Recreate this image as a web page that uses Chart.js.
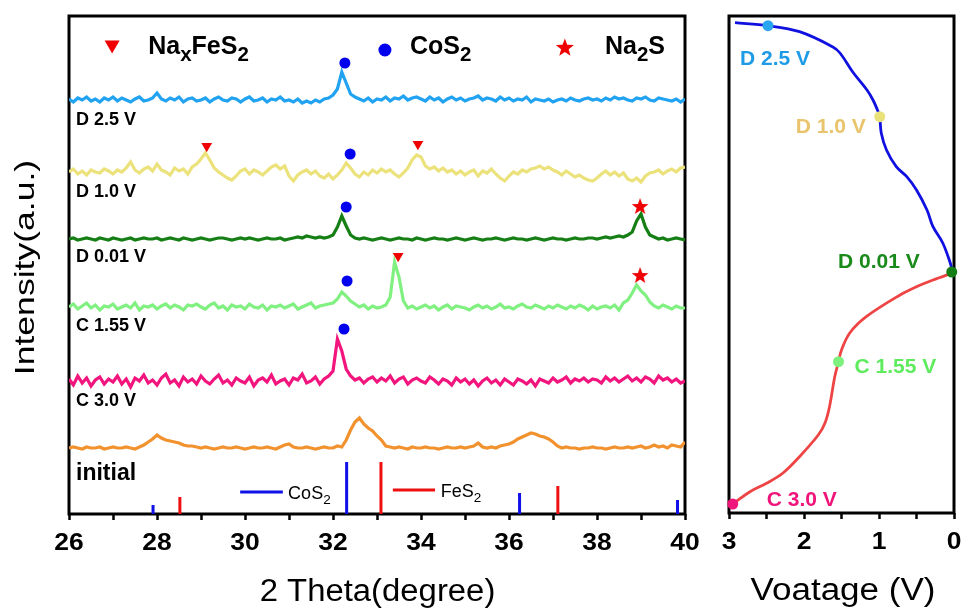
<!DOCTYPE html>
<html><head><meta charset="utf-8">
<script src="https://cdn.jsdelivr.net/npm/chart.js@4"></script>
<style>
html,body{margin:0;padding:0;background:#fff;}
#wrap{position:relative;width:964px;height:611px;overflow:hidden;}
#c1{position:absolute;left:0;top:0;}
#c2{position:absolute;left:700px;top:0;}
</style></head><body>
<div id="wrap"><canvas id="c1" width="700" height="611"></canvas><canvas id="c2" width="264" height="611"></canvas></div>
<script>
// ---------- XRD panel data ----------
const twoTheta = [26.0,26.1,26.2,26.3,26.4,26.5,26.6,26.7,26.8,26.9,
27.0,27.1,27.2,27.3,27.4,27.5,27.6,27.7,27.8,27.9,
28.0,28.1,28.2,28.3,28.4,28.5,28.6,28.7,28.8,28.9,
29.0,29.1,29.2,29.3,29.4,29.5,29.6,29.7,29.8,29.9,
30.0,30.1,30.2,30.3,30.4,30.5,30.6,30.7,30.8,30.9,
31.0,31.1,31.2,31.3,31.4,31.5,31.6,31.7,31.8,31.9,
32.0,32.1,32.2,32.3,32.4,32.5,32.6,32.7,32.8,32.9,
33.0,33.1,33.2,33.3,33.4,33.5,33.6,33.7,33.8,33.9,
34.0,34.1,34.2,34.3,34.4,34.5,34.6,34.7,34.8,34.9,
35.0,35.1,35.2,35.3,35.4,35.5,35.6,35.7,35.8,35.9,
36.0,36.1,36.2,36.3,36.4,36.5,36.6,36.7,36.8,36.9,
37.0,37.1,37.2,37.3,37.4,37.5,37.6,37.7,37.8,37.9,
38.0,38.1,38.2,38.3,38.4,38.5,38.6,38.7,38.8,38.9,
39.0,39.1,39.2,39.3,39.4,39.5,39.6,39.7,39.8,39.9,
40.0];

const intD25 = [1,-2,2,0,3,-1,1,-2,2,0,
3,-1,2,0,-2,1,3,-1,0,2,
7,1,-1,2,0,3,-2,1,2,-1,
0,2,-2,1,3,0,-1,2,1,-2,
1,3,-1,0,2,-2,1,0,3,-1,
0,-2,1,-3,-1,-3,0,-2,1,2,
5,11,28,17,6,3,1,-1,2,-2,
1,0,3,-1,2,1,4,0,2,3,
1,-1,3,0,2,-2,1,3,0,2,
-1,1,2,4,0,2,1,-1,3,0,
2,-1,1,0,3,-2,1,0,-1,1,
-2,0,1,-1,2,0,-1,1,2,0,
1,-1,2,0,3,1,2,0,-1,2,
1,3,0,-1,2,1,0,-1,1,-2,
1];

const intD10 = [0,3,-2,1,-3,2,0,-1,3,1,
-2,2,0,4,10,2,-1,3,5,1,
8,2,0,-3,4,1,3,-2,5,8,
13,19,12,4,0,-3,-6,-8,-4,1,
3,-2,2,0,-3,1,5,7,3,6,
-4,-9,-3,0,2,-2,1,-4,-6,-2,
-7,-3,2,9,4,-2,-5,0,-3,2,
-1,3,0,2,-2,-5,-1,4,12,17,
15,6,3,5,1,4,0,2,-2,1,
-3,0,2,-4,1,-1,3,-2,-6,-9,
-4,0,-2,2,0,3,4,6,3,5,
2,0,-3,1,-2,-5,-3,-6,-8,-9,
-6,-2,1,-3,0,-4,-1,-7,-9,-6,
-10,-4,-1,0,2,-2,1,3,0,4,
5];

const intD001 = [0,1,-1,0,1,0,-1,1,0,-1,
1,0,-1,0,1,-1,0,1,0,0,
1,-1,0,1,0,-1,1,0,-1,0,
1,0,-1,0,1,1,0,-1,0,1,
0,1,0,-1,0,1,0,0,1,-1,
0,1,2,1,3,2,1,2,1,2,
4,12,23,13,4,1,0,1,0,-1,
0,1,0,-1,0,1,0,0,-1,1,
0,-1,0,1,0,0,-1,0,1,0,
-1,0,1,0,-1,0,0,1,0,-1,
0,1,0,0,-1,0,1,0,-1,0,
1,0,0,-1,0,1,0,0,1,1,
0,1,2,1,2,3,2,4,7,18,
25,12,4,2,0,1,-1,0,1,0,
-1];

const intC155 = [0,3,-2,1,4,-1,2,-3,1,0,
3,-2,0,2,-1,4,-3,1,0,2,
-2,1,3,-1,2,0,-3,2,1,3,
0,-2,2,4,-1,1,-3,2,0,1,
-2,3,0,-1,2,-3,1,0,2,-1,
1,3,-2,0,2,4,-1,1,2,3,
4,8,15,11,6,3,0,2,-2,1,
-1,0,2,10,45,30,6,-1,1,-2,
0,2,-1,1,-3,0,2,-2,1,0,
-1,-3,0,2,-1,1,-2,0,3,-1,
0,-2,1,3,0,-1,2,0,-2,1,
-1,2,0,-2,1,-1,2,0,-3,1,
-2,0,1,-1,2,-3,4,7,14,22,
16,12,5,1,-1,2,0,-2,1,-1,
-1];

const intC30 = [2,-4,5,-2,3,-5,1,4,-3,2,
-1,5,-3,2,-6,3,0,6,-2,1,
-4,3,7,-2,1,-5,4,-1,2,-3,
5,0,-3,2,6,-2,1,-4,3,0,
-2,4,-5,1,3,-1,6,-3,0,2,
-4,3,1,7,-2,0,4,-3,2,5,
10,42,30,12,5,1,3,-2,2,4,
-1,3,0,5,-2,2,4,-3,1,3,
0,-2,4,1,-3,2,0,-4,3,-1,
2,-3,1,-5,0,3,-2,1,-4,2,
-1,-4,2,0,-3,1,-5,2,0,-2,
3,-1,1,4,-2,2,0,3,-1,2,
1,-2,4,0,3,-1,2,5,0,3,
-1,4,2,-2,5,1,3,-1,2,-2,
0];

const intInitial = [0,1,0,-1,1,0,0,1,-1,0,
1,0,0,1,0,-1,1,3,6,9,
13,10,8,7,6,5,3,2,2,1,
0,1,0,-1,0,1,0,0,1,0,
-1,0,1,0,0,1,0,-1,1,3,
4,1,0,0,1,0,-1,0,1,0,
0,2,1,8,18,26,30,24,20,17,
12,8,2,1,0,1,0,-1,1,0,
0,1,0,0,-1,0,1,0,0,1,
0,1,2,5,1,0,1,0,2,3,
4,6,9,11,13,15,14,12,11,9,
6,2,0,1,0,0,-1,0,0,1,
0,0,-1,0,1,0,0,1,0,1,
2,0,1,3,1,2,0,3,2,1,
6];

const traceNames = ['D 2.5 V','D 1.0 V','D 0.01 V','C 1.55 V','C 3.0 V','initial'];
const traceOffsets = [414,342,275,207,133,66];

// reference stick patterns
const cos2Ref2T = [27.91,32.31,36.24,39.83];
const cos2RefInt = [9,52,21,14];
const fes2Ref2T = [28.52,33.09,37.11];
const fes2RefInt = [17,52,28];

// phase markers above peaks
const cos2Mark2T = [32.27,32.39,32.30,32.32,32.25];
const cos2MarkY  = [451,360,307,233,185];
const naxMark2T  = [29.13,33.93,33.48];
const naxMarkY   = [368,370,258];
const na2sMark2T = [38.98,38.98];
const na2sMarkY  = [308,239];

const xTicksLeft = [26,28,30,32,34,36,38,40];

// ---------- voltage panel data ----------
const vDischarge   = [2.92,2.48,2.06,1.62,1.52,1.35,1.16,1.08,1.01,0.99,0.97,0.90,0.77,0.63,0.50,0.36,0.28,0.15,0.05,0.02];
const capDischarge = [6.7,9.7,15.7,30.7,37,56,74,84,96,100.7,117,134,150.7,160.7,174,194,210.7,227,247,256];
const vCharge      = [0.02,0.28,0.50,0.72,1.17,1.39,1.50,1.54,1.59,1.66,1.72,1.81,2.06,2.28,2.50,2.72,2.95];
const capCharge    = [257,264,270.7,279,300.7,317,334,345.7,360.7,390.7,407,419,440.7,457,467.3,475.7,488];
const stopLabels = ['D 2.5 V','D 1.0 V','D 0.01 V','C 1.55 V','C 3.0 V'];
const stopV      = [2.48,0.99,0.03,1.54,2.95];
const stopCap    = [9.7,100.7,256,345.7,488];
const xTicksRight = [3,2,1,0];

// ---------- styles ----------
const FONT = '"Liberation Sans", Arial, Helvetica, sans-serif';
const traceColors = ['#22A3F2','#ECE27C','#157F15','#80F080','#F2157D','#F2922E'];
const stopDotColors = ['#2AA5F0','#E9E27A','#157F15','#7EF07E','#F0157A'];
const stopTextColors = ['#1E9BE6','#E9C46C','#1A8A1A','#5EEB5E','#F0157A'];
const stopTextOffsets = [{dx:-28,dy:39,align:'left'},{dx:-14,dy:16,align:'right'},{dx:-32,dy:-4,align:'right'},{dx:16,dy:11,align:'left'},{dx:34,dy:2,align:'left'}];

function starPath(ctx,cx,cy,R){
  const r=R*0.42; ctx.beginPath();
  for(let k=0;k<10;k++){const a=-Math.PI/2+k*Math.PI/5;const rr=k%2?r:R;ctx.lineTo(cx+rr*Math.cos(a),cy+rr*Math.sin(a));}
  ctx.closePath();
}
function makeStar(R,color){
  const c=document.createElement('canvas'); const s=Math.ceil(2*R+2); c.width=s; c.height=s;
  const g=c.getContext('2d'); g.fillStyle=color; starPath(g,s/2,s/2+R*0.1,R); g.fill(); return c;
}
function drawText(ctx,text,x,y,o){
  ctx.save(); ctx.font=o.font; ctx.fillStyle=o.color||'#000';
  ctx.textAlign=o.align||'left'; ctx.textBaseline=o.baseline||'alphabetic';
  ctx.translate(x,y); if(o.rot) ctx.rotate(o.rot); ctx.scale(o.sx||1,1);
  ctx.fillText(text,0,0); ctx.restore();
}
function drawRich(ctx,parts,x,y,size,weight,color,subScale){
  const ss = subScale||0.75;
  ctx.save(); ctx.fillStyle=color||'#000'; ctx.textBaseline='alphabetic'; ctx.textAlign='left';
  let cx=x;
  for(const [t,sub] of parts){
    const fs = sub? size*ss : size;
    ctx.font = weight+' '+fs+'px '+FONT;
    ctx.fillText(t,cx,y+(sub?size*0.28:0));
    cx += ctx.measureText(t).width;
  }
  ctx.restore();
}

// ---------- left chart ----------
const intensities=[intD25,intD10,intD001,intC155,intC30,intInitial];
const traceDatasets = intensities.map((arr,i)=>({
  label:traceNames[i], data: twoTheta.map((t,k)=>({x:t,y:arr[k]+traceOffsets[i]})),
  borderColor:traceColors[i], borderWidth:3.2, pointRadius:0, tension:0, order:2
}));
function sticks(pos,ints){const d=[];pos.forEach((p,i)=>{d.push({x:p,y:0},{x:p,y:ints[i]},{x:p,y:null});});return d;}

const starImg = makeStar(8.8,'#F00000');
const leftDatasets = [
  {label:'CoS2 mark', data:cos2Mark2T.map((t,i)=>({x:t,y:cos2MarkY[i]})), showLine:false, pointRadius:5.5, pointStyle:'circle', pointBackgroundColor:'#0000EE', pointBorderWidth:0, order:0},
  {label:'NaxFeS2 mark', data:naxMark2T.map((t,i)=>({x:t,y:naxMarkY[i]})), showLine:false, pointRadius:6.2, pointStyle:'triangle', rotation:180, pointBackgroundColor:'#F00000', pointBorderWidth:0, order:0},
  {label:'Na2S mark', data:na2sMark2T.map((t,i)=>({x:t,y:na2sMarkY[i]})), showLine:false, pointStyle:starImg, pointRadius:9, order:0},
  {label:'CoS2 ref', data:sticks(cos2Ref2T,cos2RefInt), borderColor:'#1010E8', borderWidth:3, pointRadius:0, spanGaps:false, borderCapStyle:'butt', order:1},
  {label:'FeS2 ref', data:sticks(fes2Ref2T,fes2RefInt), borderColor:'#EE1010', borderWidth:3, pointRadius:0, spanGaps:false, borderCapStyle:'butt', order:1},
  ...traceDatasets
];

const leftDeco = {
  id:'leftDeco',
  beforeDatasetsDraw(chart){
    const {ctx,chartArea:a}=chart; ctx.save(); ctx.lineWidth=3; ctx.strokeStyle='#000';
    ctx.strokeRect(a.left,a.top,a.right-a.left,a.bottom-a.top); ctx.restore();
  },
  afterDraw(chart){
    const ctx=chart.ctx, xs=chart.scales.x, ys=chart.scales.y;
    xTicksLeft.forEach(v=>drawText(ctx,String(v),xs.getPixelForValue(v),543.5,{font:'bold 23px '+FONT,align:'center',baseline:'middle',sx:1.15}));
    drawText(ctx,'2 Theta(degree)',377.5,601,{font:'31px '+FONT,align:'center',sx:1.06});
    drawText(ctx,'Intensity(a.u.)',34,267.5,{font:'28px '+FONT,align:'center',rot:-Math.PI/2,sx:1.27});
    traceNames.forEach((n,i)=>{
      const big = n==='initial';
      const ly = [394,322,257,188,112.5,40][i];
      drawText(ctx,n,xs.getPixelForValue(26.16),ys.getPixelForValue(ly),{font:'bold '+(big?23:18)+'px '+FONT,baseline:'middle'});
    });
    const base = ys.getPixelForValue(460);
    let tx=xs.getPixelForValue(26.98), ty=ys.getPixelForValue(467.5);
    ctx.save(); ctx.fillStyle='#F00000'; ctx.beginPath(); ctx.moveTo(tx-7.5,ty-6); ctx.lineTo(tx+7.5,ty-6); ctx.lineTo(tx,ty+7); ctx.closePath(); ctx.fill(); ctx.restore();
    drawRich(ctx,[['Na',0],['x',1],['FeS',0],['2',1]],xs.getPixelForValue(27.8),base,25,'bold','#000',0.82);
    ctx.save(); ctx.fillStyle='#0000EE'; ctx.beginPath(); ctx.arc(xs.getPixelForValue(33.18),ys.getPixelForValue(464),6.5,0,Math.PI*2); ctx.fill(); ctx.restore();
    drawRich(ctx,[['CoS',0],['2',1]],xs.getPixelForValue(33.75),base,25,'bold','#000',0.82);
    ctx.save(); ctx.fillStyle='#F00000'; starPath(ctx,xs.getPixelForValue(37.27),ys.getPixelForValue(467)+1,9.5); ctx.fill(); ctx.restore();
    drawRich(ctx,[['Na',0],['2',1],['S',0]],xs.getPixelForValue(38.18),base,25,'bold','#000',0.82);
    ctx.save(); ctx.lineWidth=3;
    ctx.strokeStyle='#1010E8'; ctx.beginPath(); ctx.moveTo(xs.getPixelForValue(29.89),ys.getPixelForValue(22)); ctx.lineTo(xs.getPixelForValue(30.86),ys.getPixelForValue(22)); ctx.stroke();
    ctx.strokeStyle='#EE1010'; ctx.beginPath(); ctx.moveTo(xs.getPixelForValue(33.36),ys.getPixelForValue(24)); ctx.lineTo(xs.getPixelForValue(34.32),ys.getPixelForValue(24)); ctx.stroke();
    ctx.restore();
    drawRich(ctx,[['CoS',0],['2',1]],xs.getPixelForValue(30.98),ys.getPixelForValue(15),18,'normal','#000');
    drawRich(ctx,[['FeS',0],['2',1]],xs.getPixelForValue(34.45),ys.getPixelForValue(17),18,'normal','#000');
  }
};

new Chart(document.getElementById('c1'),{
  type:'line',
  data:{datasets:leftDatasets},
  options:{
    responsive:false, animation:false, devicePixelRatio:1,
    layout:{padding:{left:69,right:15,top:16,bottom:0}},
    plugins:{legend:{display:false},tooltip:{enabled:false}},
    scales:{
      x:{type:'linear',min:26,max:40,
         ticks:{display:false,stepSize:1},
         grid:{drawOnChartArea:false,drawTicks:true,tickLength:6,tickWidth:2.5,tickColor:'#000'},
         border:{display:false},
         afterFit:(s)=>{s.height=97;}},
      y:{display:false,min:0,max:498}
    }
  },
  plugins:[leftDeco]
});

// ---------- right chart ----------
const rightDeco = {
  id:'rightDeco',
  beforeDatasetsDraw(chart){
    const {ctx,chartArea:a}=chart; ctx.save(); ctx.lineWidth=3; ctx.strokeStyle='#000';
    ctx.strokeRect(a.left,a.top,a.right-a.left,a.bottom-a.top); ctx.restore();
  },
  afterDraw(chart){
    const ctx=chart.ctx, xs=chart.scales.x, ys=chart.scales.y;
    xTicksRight.forEach(v=>drawText(ctx,String(v),xs.getPixelForValue(v),543,{font:'bold 23px '+FONT,align:'center',baseline:'middle',sx:1.15}));
    drawText(ctx,'Voatage (V)',143,600,{font:'31px '+FONT,align:'center',sx:1.13});
    stopLabels.forEach((t,i)=>{
      const o=stopTextOffsets[i];
      drawText(ctx,t,xs.getPixelForValue(stopV[i])+o.dx,ys.getPixelForValue(stopCap[i])+o.dy,{font:'bold 21px '+FONT,align:o.align,color:stopTextColors[i]});
    });
  }
};

new Chart(document.getElementById('c2'),{
  type:'line',
  data:{datasets:[
    {label:'stops', data:stopV.map((v,i)=>({x:v,y:stopCap[i]})), showLine:false, pointRadius:5.5, pointBackgroundColor:stopDotColors, pointBorderWidth:0, clip:false, order:0},
    {label:'discharge', data:vDischarge.map((v,i)=>({x:v,y:capDischarge[i]})), borderColor:'#1010E0', borderWidth:2.8, pointRadius:0, tension:0.35, order:1},
    {label:'charge', data:vCharge.map((v,i)=>({x:v,y:capCharge[i]})), borderColor:'#EE4444', borderWidth:2.8, pointRadius:0, tension:0.35, order:1}
  ]},
  options:{
    responsive:false, animation:false, devicePixelRatio:1,
    layout:{padding:{left:29,right:10,top:16,bottom:0}},
    plugins:{legend:{display:false},tooltip:{enabled:false}},
    scales:{
      x:{type:'linear',min:0,max:3,reverse:true,
         ticks:{display:false,stepSize:0.5},
         grid:{drawOnChartArea:false,drawTicks:true,tickLength:6,tickWidth:2.5,tickColor:'#000'},
         border:{display:false},
         afterFit:(s)=>{s.height=98;}},
      y:{display:false,min:0,max:497,reverse:true}
    }
  },
  plugins:[rightDeco]
});
</script>
</body></html>
